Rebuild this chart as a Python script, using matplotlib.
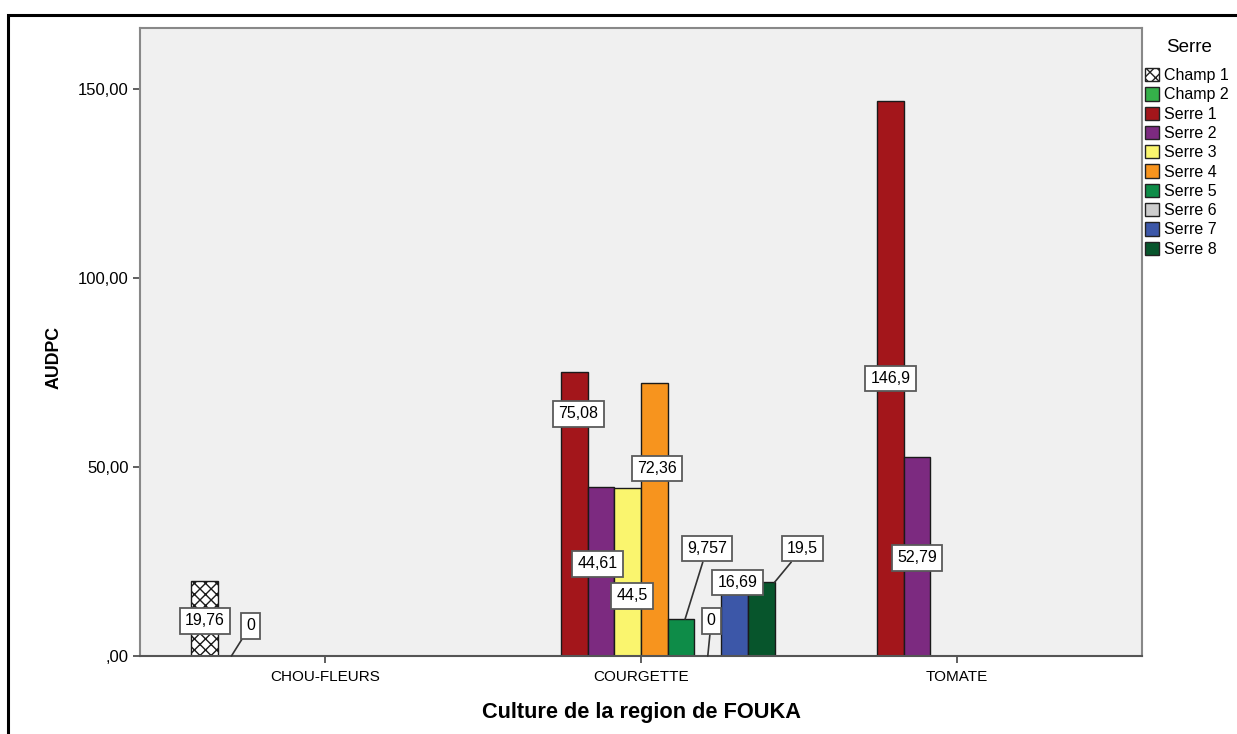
import numpy as np
import matplotlib
matplotlib.use('Agg')
import matplotlib.pyplot as plt
from matplotlib.patches import Rectangle, Patch

plt.rcParams['font.family'] = ['Liberation Sans', 'DejaVu Sans']
plt.rcParams['hatch.linewidth'] = 1.0

nan = np.nan

# data
categories = ['CHOU-FLEURS', 'COURGETTE', 'TOMATE']
series = ['Champ 1', 'Champ 2', 'Serre 1', 'Serre 2', 'Serre 3',
          'Serre 4', 'Serre 5', 'Serre 6', 'Serre 7', 'Serre 8']
champ1 = [19.76, nan, nan]
champ2 = [0, nan, nan]
serre1 = [nan, 75.08, 146.9]
serre2 = [nan, 44.61, 52.79]
serre3 = [nan, 44.5, nan]
serre4 = [nan, 72.36, nan]
serre5 = [nan, 9.757, nan]
serre6 = [nan, 0, nan]
serre7 = [nan, 16.69, nan]
serre8 = [nan, 19.5, nan]
values = [champ1, champ2, serre1, serre2, serre3,
          serre4, serre5, serre6, serre7, serre8]
yticks = [0, 50, 100, 150]
ytick_labels = [',00', '50,00', '100,00', '150,00']

colors = ['white', '#35B04A', '#A3161B', '#7C2A80', '#FAF56E',
          '#F7941E', '#0E8C48', '#CDCDCD', '#3C57A8', '#07552C']
hatches = ['xxx', None, None, None, None, None, None, None, None, None]

# label placement: (series, category) -> (x shift in bar widths, label y, leader anchor shift or None)
label_place = {
    (0, 0): (0.0, 9.3, None),
    (1, 0): (0.71, 8.0, 0.0),
    (2, 1): (0.15, 64.1, None),
    (3, 1): (-0.13, 24.4, None),
    (4, 1): (0.17, 15.9, None),
    (5, 1): (0.11, 49.6, None),
    (6, 1): (0.97, 28.4, 0.15),
    (7, 1): (0.13, 9.3, 0.0),
    (8, 1): (0.11, 19.4, None),
    (9, 1): (1.54, 28.4, 0.5),
    (2, 2): (0.0, 73.4, None),
    (3, 2): (0.0, 26.0, None),
}

fig = plt.figure(figsize=(12.37, 7.34), dpi=100)
ax = fig.add_axes([140 / 1237, 1 - 656 / 734, 1002 / 1237, 628 / 734])
ax.set_facecolor('#F0F0F0')

bw = 0.0845
x = np.arange(len(categories))
for i, (name, vals) in enumerate(zip(series, values)):
    pos = x + (i - 4.5) * bw
    v = np.array(vals, dtype=float)
    ok = ~np.isnan(v)
    ax.bar(pos[ok], v[ok], width=bw, color=colors[i], edgecolor='#1a1a1a',
           linewidth=1.0, hatch=hatches[i], zorder=2)
    for j in np.where(ok)[0]:
        if (i, j) not in label_place:
            continue
        dx, ly, anchor = label_place[(i, j)]
        txt = '{:.4g}'.format(v[j]).replace('.', ',')
        box = dict(boxstyle='square,pad=0.33', fc='white', ec='#5a5a5a', lw=1.3)
        if anchor is None:
            ax.text(pos[j] + dx * bw, ly, txt, ha='center', va='center',
                    fontsize=11.5, bbox=box, zorder=4)
        else:
            ax.annotate(txt, xy=(pos[j] + anchor * bw, v[j]),
                        xytext=(pos[j] + dx * bw, ly), ha='center', va='center',
                        fontsize=11.5, bbox=box, zorder=4,
                        arrowprops=dict(arrowstyle='-', color='#333333', lw=1.2,
                                        shrinkA=0, shrinkB=0))

ax.set_xlim(-0.585, 2.585)
ax.set_ylim(0, 166.2)
ax.set_xticks(x)
ax.set_xticklabels(categories, fontsize=11)
ax.set_yticks(yticks)
ax.set_yticklabels(ytick_labels, fontsize=12)
ax.tick_params(direction='out', length=5, width=1.2, color='#444444', pad=3)
ax.tick_params(axis='x', pad=5)
for side in ['left', 'top', 'right']:
    ax.spines[side].set_color('#888888')
    ax.spines[side].set_linewidth(1.5)
ax.spines['bottom'].set_color('#555555')
ax.spines['bottom'].set_linewidth(1.5)

ax.set_ylabel('AUDPC', fontsize=12.8, fontweight='bold')
ax.yaxis.set_label_coords(-0.077, 0.476)
ax.set_xlabel('Culture de la region de FOUKA', fontsize=15.7, fontweight='bold', labelpad=13)

handles = [Patch(facecolor=c, edgecolor='#222222', hatch=h, lw=1.0)
           for c, h in zip(colors, hatches)]
fig.text(1189 / 1237, 1 - 47 / 734, 'Serre', ha='center', va='center', fontsize=13.5)
leg = fig.legend(handles, series, loc='upper left', bbox_to_anchor=(1145 / 1237, 1 - 68 / 734),
                 frameon=False, fontsize=11.5,
                 handlelength=0.9, handleheight=0.9, handletextpad=0.3,
                 labelspacing=0.26, borderaxespad=0, borderpad=0)

fig.add_artist(Rectangle((8 / 1237, -0.1), 1.2, 1.1 - 15 / 734,
                         transform=fig.transFigure, fill=False, ec='black', lw=2.2))

fig.savefig('out.png', dpi=100)
